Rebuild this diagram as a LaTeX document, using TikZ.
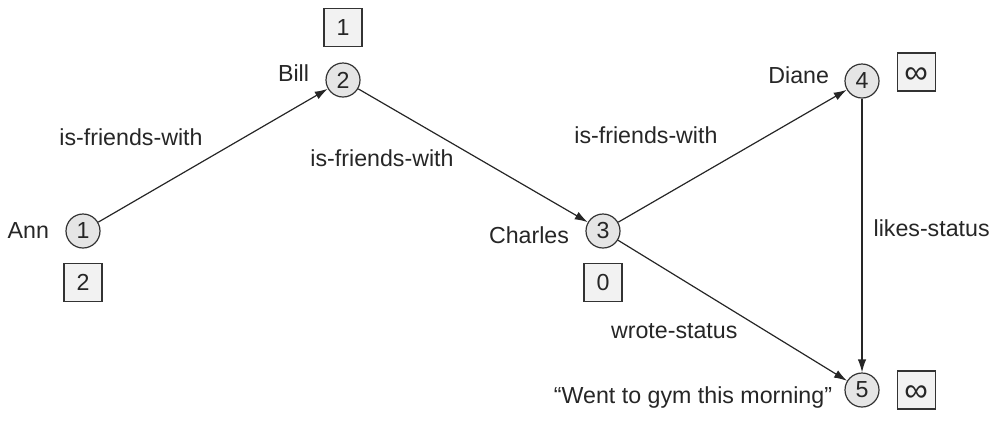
\documentclass[tikz,border=0pt]{standalone}
\usepackage{fontspec}
\setmainfont{Liberation Sans}
\usetikzlibrary{arrows.meta, positioning}

\newcommand{\unreached}{{\fontsize{16.5}{16.5}\selectfont\smash{\raisebox{-0.36em}{∞}}}}

\begin{document}
\begin{tikzpicture}[
    x=0.5pt, y=-0.5pt,
    every node/.style = {font=\fontsize{11.6}{14}\selectfont, text=black!85},
    person/.style   = {circle, draw=black!80, fill=black!10, line width=0.6pt,
                       minimum size=17pt, inner sep=0pt},
    distbox/.style  = {rectangle, draw=black!80, fill=black!5, line width=0.6pt,
                       minimum size=19pt, inner sep=0pt},
    who/.style      = {inner sep=0pt},
    edgelabel/.style = {inner sep=0pt},
    relarrow/.style = {-{Latex[length=6.5pt,width=4.2pt]}, draw=black!85, line width=0.6pt}
  ]
  \useasboundingbox (0,0) rectangle (1000,420);

  % graph nodes
  \node[person] (ann)     at (83,231)  {1};
  \node[person] (bill)    at (343,80)  {2};
  \node[person] (charles) at (603,231) {3};
  \node[person] (diane)   at (862,81)  {4};
  \node[person] (status)  at (862,390) {5};

  % names
  \node[who, left=8pt of ann]                  (annname)     {Ann};
  \node[who, left=8pt of bill, yshift=3.25pt]  (billname)    {Bill};
  \node[who, left=8pt of charles, yshift=-2pt] (charlesname) {Charles};
  \node[who, left=7.5pt of diane, yshift=3pt]  (dianename)   {Diane};
  \node[who, left=6pt of status, yshift=-3.5pt] (statusname) {“Went to gym this morning”};

  % distances
  \node[distbox, below=7pt of ann]                   (annd)     {2};
  \node[distbox, above=7.5pt of bill]                (billd)    {1};
  \node[distbox, below=7pt of charles]               (charlesd) {0};
  \node[distbox, right=8.5pt of diane, yshift=4.5pt] (dianed)   {\unreached};
  \node[distbox, right=8.5pt of status]              (statusd)  {\unreached};

  % relationships
  \draw[relarrow] (ann) -- node[edgelabel, pos=.457, anchor=south east, yshift=7.6pt]
      {is-friends-with} (bill);
  \draw[relarrow] (bill) -- node[edgelabel, pos=.418, anchor=north east, yshift=-2.2pt]
      {is-friends-with} (charles);
  \draw[relarrow] (charles) -- node[edgelabel, pos=.437, anchor=south east, yshift=9.8pt]
      {is-friends-with} (diane);
  \draw[relarrow] (diane) -- node[edgelabel, pos=.475, anchor=west, xshift=5.5pt]
      {likes-status} (status);
  \draw[relarrow] (charles) -- node[edgelabel, pos=.524, anchor=north east, yshift=-4.5pt]
      {wrote-status} (status);

\end{tikzpicture}
\end{document}
